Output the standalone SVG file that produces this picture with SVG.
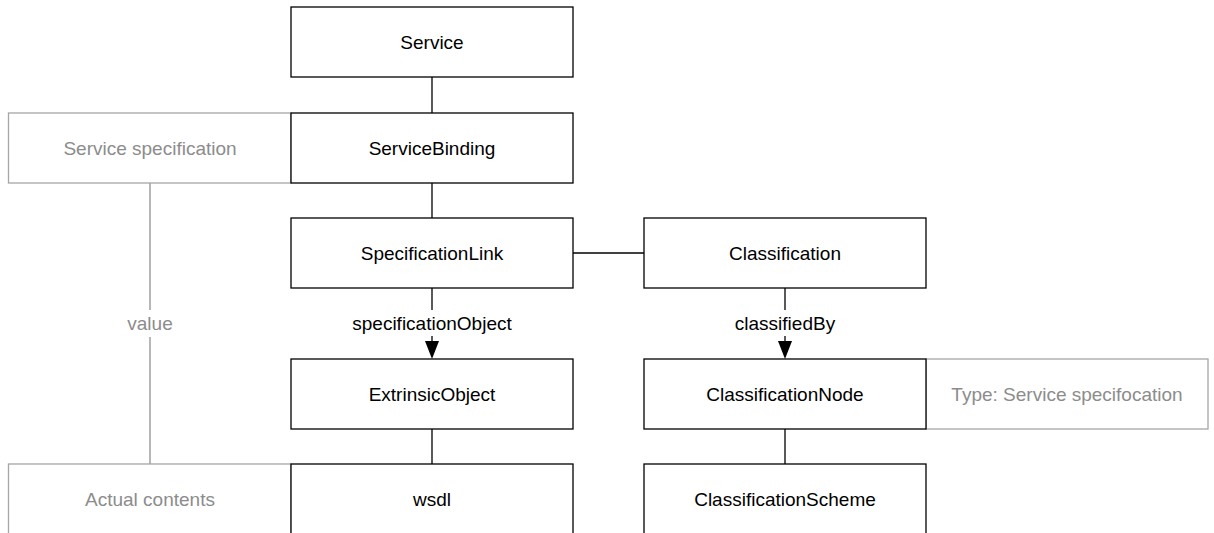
<svg xmlns="http://www.w3.org/2000/svg" width="1214" height="533" viewBox="0 0 1214 533">
<style>
.box{fill:#fff;stroke:#000;stroke-width:1.3}
.gbox{fill:#fff;stroke:#a6a6a6;stroke-width:1.3}
.t{font-family:"Liberation Sans",Arial,sans-serif;font-size:19px;fill:#000;text-anchor:middle}
.gt{font-family:"Liberation Sans",Arial,sans-serif;font-size:19px;fill:#8c8c8c;text-anchor:middle}
.ln{stroke:#000;stroke-width:1.3;fill:none}
.gln{stroke:#a6a6a6;stroke-width:1.6;fill:none}
.ah{fill:#000}
</style>
<rect width="1214" height="533" fill="#fff"/>
<g id="connectors">
<line class="ln" x1="432" y1="77" x2="432" y2="113"/>
<line class="ln" x1="432" y1="183" x2="432" y2="218"/>
<line class="ln" x1="573" y1="253" x2="644" y2="253"/>
<line class="ln" x1="432" y1="288" x2="432" y2="342"/>
<polygon class="ah" points="425,341 439,341 432,359"/>
<rect x="340" y="310" width="184" height="26" fill="#fff"/>
<text class="t" x="432" y="330">specificationObject</text>
<line class="ln" x1="785" y1="288" x2="785" y2="342"/>
<polygon class="ah" points="778,341 792,341 785,359"/>
<rect x="722" y="310" width="126" height="26" fill="#fff"/>
<text class="t" x="785" y="330">classifiedBy</text>
<line class="ln" x1="432" y1="429" x2="432" y2="464"/>
<line class="ln" x1="785" y1="429" x2="785" y2="464"/>
<line class="gln" x1="150" y1="183" x2="150" y2="310"/>
<line class="gln" x1="150" y1="337" x2="150" y2="464"/>
<text class="gt" x="150" y="330">value</text>
</g>
<g id="service-spec"><rect class="gbox" x="8.5" y="113" width="282.5" height="70"/><text class="gt" x="150" y="155">Service specification</text></g>
<g id="actual-contents"><rect class="gbox" x="8.5" y="464" width="282.5" height="80"/><text class="gt" x="150" y="506">Actual contents</text></g>
<g id="type-box"><rect class="gbox" x="926" y="359" width="282" height="70"/><text class="gt" x="1067" y="401">Type: Service specifocation</text></g>
<g id="service"><rect class="box" x="291" y="7" width="282" height="70"/><text class="t" x="432" y="49">Service</text></g>
<g id="service-binding"><rect class="box" x="291" y="113" width="282" height="70"/><text class="t" x="432" y="155">ServiceBinding</text></g>
<g id="specification-link"><rect class="box" x="291" y="218" width="282" height="70"/><text class="t" x="432" y="260">SpecificationLink</text></g>
<g id="classification"><rect class="box" x="644" y="218" width="282" height="70"/><text class="t" x="785" y="260">Classification</text></g>
<g id="extrinsic-object"><rect class="box" x="291" y="359" width="282" height="70"/><text class="t" x="432" y="401">ExtrinsicObject</text></g>
<g id="classification-node"><rect class="box" x="644" y="359" width="282" height="70"/><text class="t" x="785" y="401">ClassificationNode</text></g>
<g id="wsdl"><rect class="box" x="291" y="464" width="282" height="80"/><text class="t" x="432" y="506">wsdl</text></g>
<g id="classification-scheme"><rect class="box" x="644" y="464" width="282" height="80"/><text class="t" x="785" y="506">ClassificationScheme</text></g>
</svg>
